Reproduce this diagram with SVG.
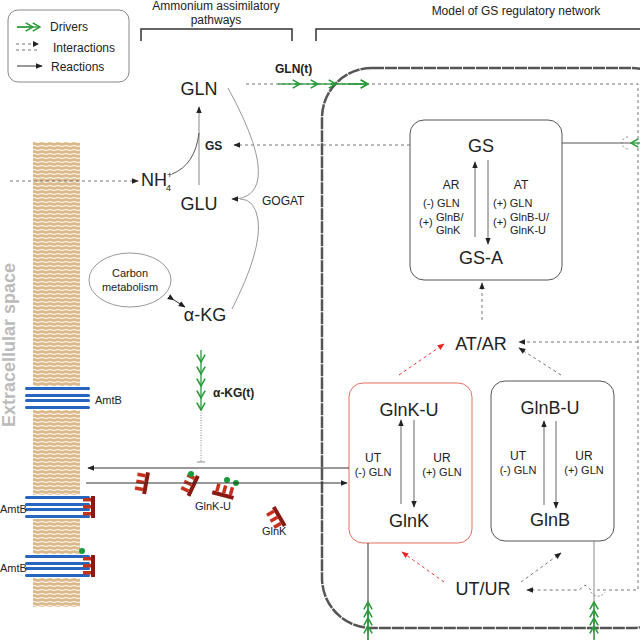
<svg xmlns="http://www.w3.org/2000/svg" width="640" height="640" viewBox="0 0 640 640">
<style>
text{font-family:"Liberation Sans",Arial,sans-serif;fill:#222}
.big{font-size:18px}.med{font-size:16px}.sm{font-size:12px}.xs{font-size:11px}
.ln{stroke:#333;stroke-width:1;fill:none}
.dash{stroke:#777;stroke-width:1;stroke-dasharray:3,3;fill:none}
.rdash{stroke:#e33;stroke-width:1;stroke-dasharray:3,3;fill:none}
.drv{stroke:#2a9a3a;stroke-width:1.3;fill:none}
.box{fill:#fff;stroke:#555;stroke-width:1}
</style>
<defs>
<marker id="ah" viewBox="0 0 10 10" refX="9" refY="5" markerWidth="7" markerHeight="7" orient="auto"><path d="M0,1L10,5L0,9z" fill="#222"/></marker>
<marker id="ahr" viewBox="0 0 10 10" refX="9" refY="5" markerWidth="7" markerHeight="7" orient="auto"><path d="M0,1L10,5L0,9z" fill="#e22"/></marker>
<marker id="gv" viewBox="0 0 10 10" refX="9" refY="5" markerWidth="8" markerHeight="8" orient="auto"><path d="M2,1L9,5L2,9" fill="none" stroke="#2a9a3a" stroke-width="1.5"/></marker>
<pattern id="mem" width="8" height="4" patternUnits="userSpaceOnUse"><rect width="8" height="4" fill="#dcb98a"/><path d="M0,2Q2,1 4,2T8,2" stroke="#fff" stroke-width="1" fill="none"/></pattern>
<g id="amt"><rect x="0" y="-12" width="65" height="24" fill="#fff"/><rect x="0" y="-11" width="65" height="3" rx="1.5" fill="#2766c0"/><rect x="0" y="-4" width="65" height="3" rx="1.5" fill="#2766c0"/><rect x="0" y="1" width="65" height="3" rx="1.5" fill="#2766c0"/><rect x="0" y="8" width="65" height="3" rx="1.5" fill="#2766c0"/></g>
<g id="glnk"><rect x="0" y="0" width="4" height="22" fill="#8a1a10"/><rect x="-8" y="2" width="8" height="3.5" fill="#c8301e"/><rect x="-8" y="9" width="8" height="3.5" fill="#c8301e"/><rect x="-8" y="16" width="8" height="3.5" fill="#c8301e"/></g>
</defs>

<!-- legend -->
<g id="legend">
<rect x="8" y="10" width="121" height="72" rx="10" fill="#fff" stroke="#888"/>
<path class="drv" d="M17,27H40" marker-end="url(#gv)"/><path class="drv" d="M17,27H33" marker-end="url(#gv)"/>
<text x="50" y="31" class="sm">Drivers</text>
<path class="dash" d="M16,44H38M16,50H38"/><path d="M33,41L39,44L33,47z" fill="#222"/>
<text x="53" y="52" class="sm">Interactions</text>
<path class="ln" d="M17,66H42" marker-end="url(#ah)"/>
<text x="51" y="71" class="sm">Reactions</text>
</g>

<!-- headers -->
<g id="headers">
<text x="216" y="10" class="sm" text-anchor="middle">Ammonium assimilatory</text>
<text x="216" y="24" class="sm" text-anchor="middle">pathways</text>
<path d="M141,41V29H292V41" fill="none" stroke="#333" stroke-width="1.5"/>
<text x="516" y="15" class="sm" text-anchor="middle">Model of GS regulatory network</text>
<path d="M316,41V29H640" fill="none" stroke="#333" stroke-width="1.5"/>
</g>

<!-- membrane -->
<g id="membrane">
<rect x="33" y="142" width="47" height="465" fill="url(#mem)"/>
<text transform="translate(15,345) rotate(-90)" text-anchor="middle" style="font-size:18px;font-weight:bold;fill:#bbb">Extracellular space</text>
<use href="#amt" x="25" y="398"/>
<text x="95" y="404" class="xs" fill="#444">AmtB</text>
<use href="#amt" x="25" y="507"/>
<use href="#glnk" x="91" y="496"/>
<text x="0" y="513" class="xs">AmtB</text>
<use href="#amt" x="25" y="566"/>
<use href="#glnk" x="91" y="555"/>
<circle cx="82" cy="551" r="3" fill="#1a9a3a"/>
<text x="0" y="572" class="xs">AmtB</text>
</g>

<!-- free GlnK -->
<g id="freeglnk">
<use href="#glnk" transform="translate(146,472) rotate(10)"/>
<use href="#glnk" transform="translate(196,475) rotate(25)"/>
<circle cx="191" cy="474" r="3" fill="#1a9a3a"/>
<use href="#glnk" transform="translate(234,496) rotate(105)"/>
<circle cx="227" cy="480" r="3" fill="#1a9a3a"/><circle cx="236" cy="483" r="3" fill="#1a9a3a"/>
<text x="195" y="510" class="xs" fill="#444">GlnK-U</text>
<use href="#glnk" transform="translate(272,508) rotate(-30)"/>
<text x="262" y="535" class="xs" fill="#444">GlnK</text>
</g>

<!-- left pathway nodes -->
<g id="GLN"><text x="199" y="95" class="big" text-anchor="middle">GLN</text></g>
<g id="GLU"><text x="199" y="210" class="big" text-anchor="middle">GLU</text></g>
<g id="NH4"><text x="141" y="186" class="big">NH</text><text x="167" y="178" style="font-size:9px">+</text><text x="166" y="191" style="font-size:9px">4</text></g>
<g id="aKG"><text x="205" y="321" class="big" text-anchor="middle">α-KG</text></g>
<g id="carbon"><ellipse cx="130" cy="280" rx="41" ry="27" fill="#fff" stroke="#999"/><text x="130" y="277" class="xs" text-anchor="middle">Carbon</text><text x="130" y="291" class="xs" text-anchor="middle">metabolism</text></g>
<text x="205" y="150" style="font-size:12px;font-weight:bold" >GS</text>
<text x="262" y="205" class="sm" fill="#444">GOGAT</text>
<text x="275" y="73" style="font-size:12px;font-weight:bold">GLN(t)</text>
<text x="213" y="397" style="font-size:12px;font-weight:bold">α-KG(t)</text>

<!-- model boxes -->
<g id="outer"><rect x="322" y="68" width="360" height="560" rx="50" fill="none" stroke="#555" stroke-width="2.5" stroke-dasharray="12,1"/></g>
<g id="GSbox">
<rect x="410" y="120" width="152" height="160" rx="14" class="box"/>
<text x="481" y="152" class="big" text-anchor="middle">GS</text>
<text x="481" y="264" class="big" text-anchor="middle">GS-A</text>
<text x="451" y="189" class="sm" text-anchor="middle">AR</text>
<text x="521" y="189" class="sm" text-anchor="middle">AT</text>
<text x="423" y="207" class="xs">(-)  GLN</text>
<text x="419" y="226" class="xs">(+)</text><text x="436" y="221" class="xs">GlnB/</text><text x="436" y="234" class="xs">GlnK</text>
<text x="493" y="207" class="xs">(+)  GLN</text>
<text x="493" y="226" class="xs">(+)</text><text x="510" y="221" class="xs">GlnB-U/</text><text x="510" y="234" class="xs">GlnK-U</text>
</g>
<g id="ATAR"><text x="481" y="350" class="big" text-anchor="middle">AT/AR</text></g>
<g id="GlnKbox">
<rect x="349" y="383" width="123" height="160" rx="14" fill="#fff" stroke="#e57060"/>
<text x="409" y="416" class="big" text-anchor="middle">GlnK-U</text>
<text x="409" y="527" class="big" text-anchor="middle">GlnK</text>
<text x="373" y="462" class="sm" text-anchor="middle">UT</text><text x="373" y="476" class="xs" text-anchor="middle">(-) GLN</text>
<text x="442" y="462" class="sm" text-anchor="middle">UR</text><text x="442" y="476" class="xs" text-anchor="middle">(+) GLN</text>
</g>
<g id="GlnBbox">
<rect x="491" y="381" width="123" height="160" rx="14" fill="#fff" stroke="#555"/>
<text x="550" y="414" class="big" text-anchor="middle">GlnB-U</text>
<text x="550" y="526" class="big" text-anchor="middle">GlnB</text>
<text x="518" y="460" class="sm" text-anchor="middle">UT</text><text x="518" y="474" class="xs" text-anchor="middle">(-) GLN</text>
<text x="584" y="460" class="sm" text-anchor="middle">UR</text><text x="584" y="474" class="xs" text-anchor="middle">(+) GLN</text>
</g>
<g id="UTUR"><text x="483" y="595" class="big" text-anchor="middle">UT/UR</text></g>

<!-- connectors -->
<g id="connectors">
<path class="ln" style="stroke:#888" d="M199,185V107" marker-end="url(#ah)"/>
<path class="ln" style="stroke:#555" d="M172,174Q195,165 199,133"/>
<path class="dash" d="M320,145H234" marker-end="url(#ah)"/>
<path class="dash" d="M410,145H320"/>
<path class="dash" d="M10,181H138" marker-end="url(#ah)"/>
<path class="ln" style="stroke:#999" d="M228,88Q262,150 258,178Q255,199 232,199" marker-end="url(#ah)"/>
<path class="ln" style="stroke:#999" d="M232,309Q262,250 258,220Q255,199 240,199"/>
<path class="ln" d="M174,300L185,307" marker-start="url(#ah)" marker-end="url(#ah)"/>
<path class="dash" d="M246,84H638V590H597"/>
<path class="drv" d="M278,84H300" marker-end="url(#gv)"/><path class="drv" d="M295,84H318" marker-end="url(#gv)"/><path class="drv" d="M313,84H336" marker-end="url(#gv)"/><path class="drv" d="M331,84H368" marker-end="url(#gv)"/><path class="drv" d="M349,84H368" marker-end="url(#gv)"/>
<path class="drv" d="M201,350V362" marker-end="url(#gv)"/><path class="drv" d="M201,360V374" marker-end="url(#gv)"/><path class="drv" d="M201,372V386" marker-end="url(#gv)"/><path class="drv" d="M201,384V398" marker-end="url(#gv)"/><path class="drv" d="M201,396V410" marker-end="url(#gv)"/>
<path d="M201,410V462" stroke="#888" stroke-dasharray="1,1.5" fill="none"/>
<path d="M197,462H205" stroke="#888"/>
<path class="ln" d="M349,468H88" marker-end="url(#ah)"/>
<path class="ln" d="M86,483H347" marker-end="url(#ah)"/>
<path class="ln" style="stroke:#555" d="M562,143H631"/>
<path class="drv" d="M640,143H631" marker-end="url(#gv)"/>
<path d="M628,137A6,6 0 0 0 628,149" stroke="#888" stroke-dasharray="2,2" fill="none"/>
<path class="ln" style="stroke:#666" d="M475,237V162" marker-end="url(#ah)"/>
<path class="ln" style="stroke:#666" d="M488,160V244" marker-end="url(#ah)"/>
<path class="ln" style="stroke:#666" d="M401,504V420" marker-end="url(#ah)"/>
<path class="ln" style="stroke:#666" d="M414,420V507" marker-end="url(#ah)"/>
<path class="ln" style="stroke:#666" d="M544,505V421" marker-end="url(#ah)"/>
<path class="ln" style="stroke:#666" d="M556,421V508" marker-end="url(#ah)"/>
<path class="dash" d="M482,320V283" marker-end="url(#ah)"/>
<path class="rdash" d="M399,375L444,344" marker-end="url(#ahr)"/>
<path class="dash" d="M561,375L519,348" marker-end="url(#ah)"/>
<path class="dash" d="M638,342H519" marker-end="url(#ah)"/>
<path class="rdash" d="M444,582L402,552" marker-end="url(#ahr)"/>
<path class="dash" d="M521,582L561,553" marker-end="url(#ah)"/>
<path class="dash" d="M591,590L585,585L579,590H527" marker-end="url(#ah)"/>
<path d="M591,592A8,8 0 0 0 605,592" stroke="#888" stroke-dasharray="2,2" fill="none"/>
<path class="ln" d="M368,543V640"/>
<path class="ln" style="stroke:#888" d="M594,541V640"/>
<g>
<path class="drv" d="M368,640V626" marker-end="url(#gv)"/><path class="drv" d="M368,632V618" marker-end="url(#gv)"/><path class="drv" d="M368,624V610" marker-end="url(#gv)"/><path class="drv" d="M368,616V602" marker-end="url(#gv)"/>
<path class="drv" d="M594,640V626" marker-end="url(#gv)"/><path class="drv" d="M594,632V618" marker-end="url(#gv)"/><path class="drv" d="M594,624V610" marker-end="url(#gv)"/><path class="drv" d="M594,616V602" marker-end="url(#gv)"/>
</g>
</g>
</svg>
